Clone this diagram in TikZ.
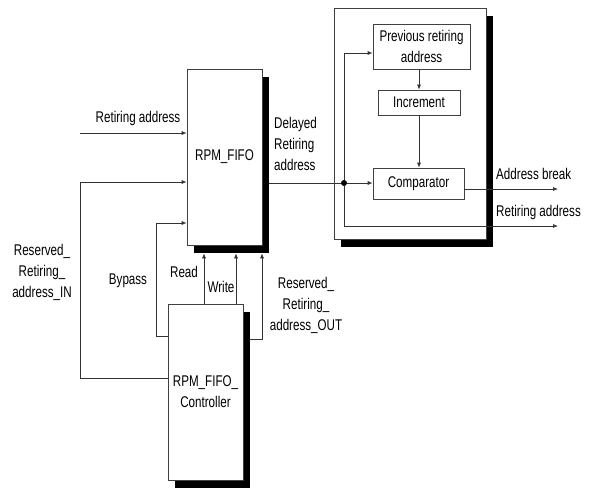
\documentclass[tikz,border=0pt]{standalone}
\usepackage{fontspec}
\setmainfont{Liberation Sans}[FakeStretch=0.75]
\usetikzlibrary{shadows,arrows.meta}
\begin{document}
\begin{tikzpicture}[x=1pt,y=-1pt,
  font=\fontsize{15.5}{21}\selectfont,
  box/.style={draw=black!75, line width=0.7pt, fill=white, inner sep=0pt, align=center},
  shbox/.style={box, drop shadow={shadow xshift=7pt, shadow yshift=-8pt, fill=black, opacity=1}},
  conn/.style={draw=black!80, line width=0.7pt},
  arr/.style={conn, -{Latex[length=5pt,width=4pt]}},
  lbl/.style={inner sep=0pt, align=center}]
\useasboundingbox (0,0) rectangle (593,487);

% main boxes
\node[shbox, minimum width=75pt, minimum height=176pt] (fifo) at (224.5,157) {RPM\_FIFO};
\node[shbox, minimum width=75pt, minimum height=176pt] (ctrl) at (205.5,392) {RPM\_FIFO\_\\Controller};
\node[shbox, minimum width=152pt, minimum height=231pt] (big) at (410,123.5) {};
\node[box, minimum width=97pt, minimum height=45pt] (prev) at (421.5,46.5) {Previous retiring\\address};
\node[box, minimum width=82pt, minimum height=25pt] (inc) at (419,102.5) {Increment};
\node[box, minimum width=91pt, minimum height=31pt] (comp) at (418.5,183.5) {Comparator};
\node[circle, fill=black, inner sep=0pt, minimum size=6pt] (dot) at (344,183) {};

% coordinates for free ends
\coordinate (rain) at (80,133);
\coordinate (abrk) at (558,189);
\coordinate (raout) at (558,226);

% left inputs
\draw[arr] (rain) -- (fifo.west |- rain);
\draw[arr] (ctrl.west |- 0,378) -- (80,378) -- (80,182) -- (fifo.west |- 0,182);
\draw[arr] (ctrl.west |- 0,336) -- (156,336) -- (156,223) -- (fifo.west |- 0,223);

% controller to fifo
\draw[arr] (ctrl.north -| 204,0) -- ([yshift=-8pt]fifo.south -| 204,0);
\draw[arr] (ctrl.north -| 236,0) -- ([yshift=-8pt]fifo.south -| 236,0);
\draw[arr] ([xshift=7pt]ctrl.east |- 0,339) -- (262,339) -- ([yshift=-8pt]fifo.south -| 262,0);

% delayed retiring address
\draw[conn] ([xshift=7pt]fifo.east |- dot) -- (dot);
\draw[arr] (dot) -- (comp.west |- dot);
\draw[arr] (dot) -- (344,53) -- (prev.west |- 0,53);
\draw[arr] (dot) -- (344,226) -- (raout);
\draw[arr] (comp.east |- abrk) -- (abrk);
\draw[arr] (prev.south -| 419,0) -- (inc.north -| 419,0);
\draw[arr] (inc.south -| 419,0) -- (comp.north -| 419,0);

% labels
\node[lbl] at (138,118) {Retiring address};
\node[lbl, anchor=west, align=left] at (274,144) {Delayed\\Retiring\\address};
\node[lbl, anchor=west] at (496,174) {Address break};
\node[lbl, anchor=west] at (496,212) {Retiring address};
\node[lbl] at (42,272) {Reserved\_\\Retiring\_\\address\_IN};
\node[lbl] at (128,281) {Bypass};
\node[lbl] at (184,272) {Read};
\node[lbl] at (221,287) {Write};
\node[lbl] at (306,305) {Reserved\_\\Retiring\_\\address\_OUT};
\end{tikzpicture}
\end{document}
